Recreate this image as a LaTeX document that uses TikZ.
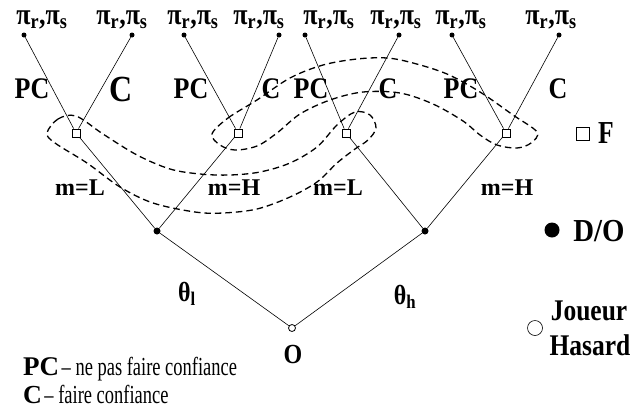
\documentclass[tikz,border=0pt]{standalone}
\usepackage{fontspec}
\setmainfont{Liberation Serif}
\newcommand{\fs}[1]{\fontsize{#1}{#1}\selectfont}
\newcommand{\nar}[2]{\scalebox{#1}[1]{#2}}
\newcommand{\tall}[1]{\scalebox{1}[1.15]{#1}}
\begin{document}
\begin{tikzpicture}[x=1pt,y=-1pt,
  leaf/.style={circle,fill=black,inner sep=0pt,minimum size=5pt},
  dec/.style={circle,fill=black,inner sep=0pt,minimum size=7pt},
  fbox/.style={draw,fill=white,inner sep=0pt,minimum size=8pt,line width=0.8pt},
  chance/.style={circle,draw,fill=white,inner sep=0pt,minimum size=7pt,line width=0.8pt},
  edge/.style={line width=0.6pt},
  infoset/.style={dash pattern=on 6.5pt off 4pt,line width=1.3pt},
  lab/.style={inner sep=0pt,font=\bfseries\fs{26}},
  plab/.style={inner sep=0pt,font=\bfseries\fs{26}},
  mlab/.style={inner sep=0pt,font=\bfseries\fs{24}},
  leg/.style={inner sep=0pt,font=\bfseries\fs{32}}]
\useasboundingbox (0,0) rectangle (639,410);
% nodes
\node[leaf] (l1) at (24,35) {};
\node[leaf] (l2) at (132,35) {};
\node[leaf] (l3) at (184,35) {};
\node[leaf] (l4) at (279,35) {};
\node[leaf] (l5) at (305,35) {};
\node[leaf] (l6) at (399,35) {};
\node[leaf] (l7) at (452,35) {};
\node[leaf] (l8) at (559,35) {};
\node[fbox] (f1) at (76,133) {};
\node[fbox] (f2) at (238,133) {};
\node[fbox] (f3) at (346,133) {};
\node[fbox] (f4) at (506,133) {};
\node[dec] (d1) at (157,231) {};
\node[dec] (d2) at (425,231) {};
\node[chance] (o) at (292,328) {};
% edges
\draw[edge] (l1) -- (f1) (l2) -- (f1) (l3) -- (f2) (l4) -- (f2)
  (l5) -- (f3) (l6) -- (f3) (l7) -- (f4) (l8) -- (f4)
  (f1) -- (d1) (f2) -- (d1) (f3) -- (d2) (f4) -- (d2)
  (d1) -- (o) (d2) -- (o);
% information sets
\draw[infoset] plot[smooth cycle,tension=0.55] coordinates {
  (47,133) (58,119) (76,116) (103,134) (137,155) (170,169) (200,174)
  (230,175) (260,172) (290,163) (317,147) (337,125) (355,112) (370,115)
  (376,128) (368,140) (355,149) (337,163) (317,182) (290,197) (257,209)
  (223,213) (195,212) (153,203) (120,187) (87,163) (55,143)};
\draw[infoset] plot[smooth cycle,tension=0.55] coordinates {
  (212,134) (228,118) (257,100) (290,78) (323,65) (357,59) (387,58)
  (413,63) (447,74) (480,92) (513,115) (537,132) (531,143) (517,148)
  (497,145) (480,135) (463,121) (433,104) (400,93) (363,92) (330,100)
  (300,114) (277,133) (257,146) (235,150) (220,145)};
% payoffs
\foreach \n/\x in {1/42,2/122,3/193,4/259,5/329,6/396,7/461,8/551}
  \node[plab] (p\n) at (\x,20) {\tall{π\textsubscript{r},π\textsubscript{s}}};
% actions
\node[lab] (pc1) at (32,89) {\tall{PC}};
\node[lab,font=\bfseries\fs{32}] (c1) at (121,89) {\tall{C}};
\node[lab] (pc2) at (191,89) {\tall{PC}};
\node[lab] (c2) at (271,89) {\tall{C}};
\node[lab] (pc3) at (311,89) {\tall{PC}};
\node[lab] (c3) at (388,89) {\tall{C}};
\node[lab] (pc4) at (461,89) {\tall{PC}};
\node[lab] (c4) at (558,89) {\tall{C}};
% messages
\node[mlab] (m1) at (80,188) {m=L};
\node[mlab] (m2) at (234,188) {m=H};
\node[mlab] (m3) at (338,188) {m=L};
\node[mlab] (m4) at (507,188) {m=H};
% types
\node[mlab] (t1) at (187,294) {\tall{θ\textsubscript{l}}};
\node[mlab] (t2) at (405,297) {\tall{θ\textsubscript{h}}};
\node[mlab] (on) at (293,354) {\tall{O}};
% legend
\node[fbox,minimum size=13pt,line width=0.6pt] (lf) at (583,134) {};
\node[leg] (lF) at (606,133) {\nar{0.8}{F}};
\node[dec,minimum size=15pt] (ld) at (552,230) {};
\node[leg] (lD) at (599,231) {\nar{0.9}{D/O}};
\node[chance,minimum size=15pt,line width=0.6pt] (lc) at (535,328) {};
\node[leg,font=\bfseries\fs{30}] (lJ) at (589,311) {\nar{0.85}{Joueur}};
\node[leg,font=\bfseries\fs{30}] (lH) at (590,345) {\nar{0.85}{Hasard}};
\node[inner sep=0pt,anchor=base west] (k1) at (23,375)
  {\textbf{\fs{27}PC} \fs{26}\nar{0.71}{– ne pas faire confiance}};
\node[inner sep=0pt,anchor=base west] (k2) at (23,403)
  {\textbf{\fs{26}C} \fs{26}\nar{0.71}{– faire confiance}};
\end{tikzpicture}
\end{document}
